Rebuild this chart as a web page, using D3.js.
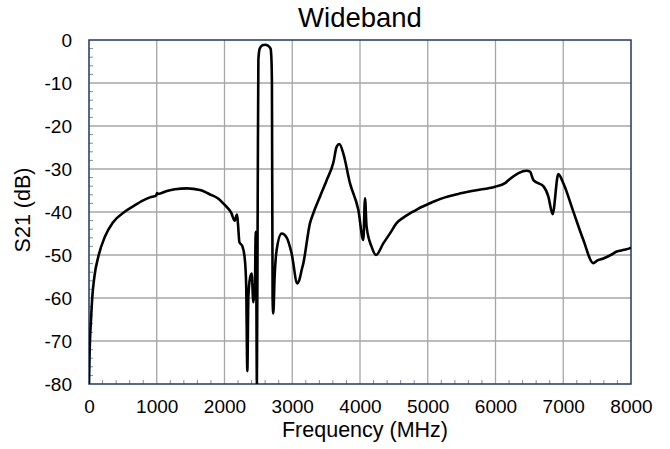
<!DOCTYPE html>
<html><head><meta charset="utf-8">
<script src="https://cdn.jsdelivr.net/npm/d3@7"></script>
<style>
html,body{margin:0;padding:0;background:#fff;}
svg{display:block;font-family:"Liberation Sans",Arial,sans-serif;}
</style></head>
<body>
<svg id="chart" width="670" height="449"></svg>
<script>
const title = "Wideband";
const xTitle = "Frequency (MHz)";
const yTitle = "S21 (dB)";
const xTicks = [0,1000,2000,3000,4000,5000,6000,7000,8000];
const yTicks = [0,-10,-20,-30,-40,-50,-60,-70,-80];
const freq = [0,10,30,49,80,137,236,350,531,650,800,900,990,1005,1020,1150,1269,1446,1638,1800,1900,2000,2100,2150,2185,2200,2220,2265,2300,2320,2337,2352,2375,2401,2426,2450,2460,2470,2478,2490,2500,2520,2560,2600,2640,2680,2694,2700,2710,2720,2740,2770,2843,2916,2990,3075,3100,3139,3164,3262,3311,3410,3508,3607,3656,3695,3754,3852,3975,4049,4074,4097,4172,4236,4344,4450,4540,4640,4738,4820,4900,5000,5100,5255,5450,5697,5993,6140,6190,6460,6509,6559,6706,6780,6843,6927,7001,7149,7297,7444,7500,7592,7700,7789,7900,7985,8000];
const s21 = [-80,-72,-65,-59.7,-55,-50.4,-45.7,-42.5,-39.9,-38.7,-37.3,-36.6,-36.2,-35.6,-35.8,-35.1,-34.7,-34.5,-34.9,-36,-36.8,-38.3,-40.2,-42,-40.6,-43,-47,-48,-51,-57,-77,-60,-55.5,-54.3,-61,-57,-44.6,-58,-80,-38,-4.6,-2,-1.2,-1.1,-1.3,-2,-5,-10,-60,-63.6,-55,-48.8,-45,-45.9,-49.6,-56.6,-56,-53.5,-51.9,-42.6,-40.3,-36.4,-32.6,-28.5,-24.8,-24.2,-26.4,-33.3,-39.5,-46.5,-36.8,-43.4,-48.1,-50,-47.3,-44.8,-42.6,-41.3,-40.3,-39.6,-38.9,-38.2,-37.5,-36.6,-35.8,-35,-34.1,-33.3,-32.6,-30.4,-30.6,-32.6,-34,-36.4,-40.5,-31.2,-33.3,-39.9,-46.5,-51.9,-51.3,-50.8,-50,-49.2,-48.8,-48.4,-48.3];

const svg = d3.select("#chart");
const L = 89, R = 631, T = 40, B = 384;
const x = d3.scaleLinear().domain([0,8000]).range([L,R]);
const y = d3.scaleLinear().domain([-80,0]).range([B,T]);
const gridColor = "#a6a6a6", axisColor = "#1f3864";
const fmt = d => String(d);

// gridlines
svg.append("g").selectAll("line").data(xTicks.slice(1,-1)).join("line")
  .attr("x1",d=>x(d)).attr("x2",d=>x(d)).attr("y1",T).attr("y2",B)
  .attr("stroke",gridColor).attr("stroke-width",1.3);
svg.append("g").selectAll("line").data(yTicks.slice(1,-1)).join("line")
  .attr("y1",d=>y(d)).attr("y2",d=>y(d)).attr("x1",L).attr("x2",R)
  .attr("stroke",gridColor).attr("stroke-width",1.3);

// minor ticks (inward)
const xMinor = d3.range(0,8001,200).filter(v=>v%1000!==0);
const yMinor = d3.range(-80,1,2).filter(v=>v%10!==0);
svg.append("g").selectAll("line").data(xMinor).join("line")
  .attr("x1",d=>x(d)).attr("x2",d=>x(d)).attr("y1",B).attr("y2",B-4)
  .attr("stroke","#8a8a9a").attr("stroke-width",1);
svg.append("g").selectAll("line").data(yMinor).join("line")
  .attr("y1",d=>y(d)).attr("y2",d=>y(d)).attr("x1",L).attr("x2",L+4)
  .attr("stroke","#8a8a9a").attr("stroke-width",1);

// border
svg.append("rect").attr("x",L).attr("y",T).attr("width",R-L).attr("height",B-T)
  .attr("fill","none").attr("stroke",axisColor).attr("stroke-width",1.5);

// axes labels via d3 axes
const xAxis = d3.axisBottom(x).tickValues(xTicks).tickFormat(fmt).tickSize(0).tickPadding(16);
const gx = svg.append("g").attr("transform",`translate(0,${B})`).call(xAxis);
gx.select(".domain").remove();
gx.selectAll("text").attr("font-size",19).attr("fill","#000").attr("font-family","Liberation Sans, Arial, sans-serif");
const yAxis = d3.axisLeft(y).tickValues(yTicks).tickFormat(fmt).tickSize(0).tickPadding(17);
const gy = svg.append("g").attr("transform",`translate(${L},0)`).call(yAxis);
gy.select(".domain").remove();
gy.selectAll("text").attr("font-size",19).attr("fill","#000").attr("font-family","Liberation Sans, Arial, sans-serif");

// data line
svg.append("clipPath").attr("id","clip").append("rect")
  .attr("x",L).attr("y",T).attr("width",R-L).attr("height",B-T);
const data = freq.map((f,i)=>[f,s21[i]]);
const line = d3.line().x(d=>x(d[0])).y(d=>y(d[1])).curve(d3.curveMonotoneX);
svg.append("path").datum(data).attr("d",line).attr("fill","none")
  .attr("stroke","#000").attr("stroke-width",2.6).attr("stroke-linejoin","round")
  .attr("clip-path","url(#clip)");

// titles
svg.append("text").attr("x",(L+R)/2).attr("y",27).attr("text-anchor","middle")
  .attr("font-size",27.5).text(title);
svg.append("text").attr("x",(L+R)/2 + 5).attr("y",437).attr("text-anchor","middle")
  .attr("font-size",21.5).text(xTitle);
svg.append("text").attr("transform",`translate(30,${(T+B)/2 - 2}) rotate(-90)`)
  .attr("text-anchor","middle").attr("font-size",21.5).text(yTitle);
</script>
</body></html>
